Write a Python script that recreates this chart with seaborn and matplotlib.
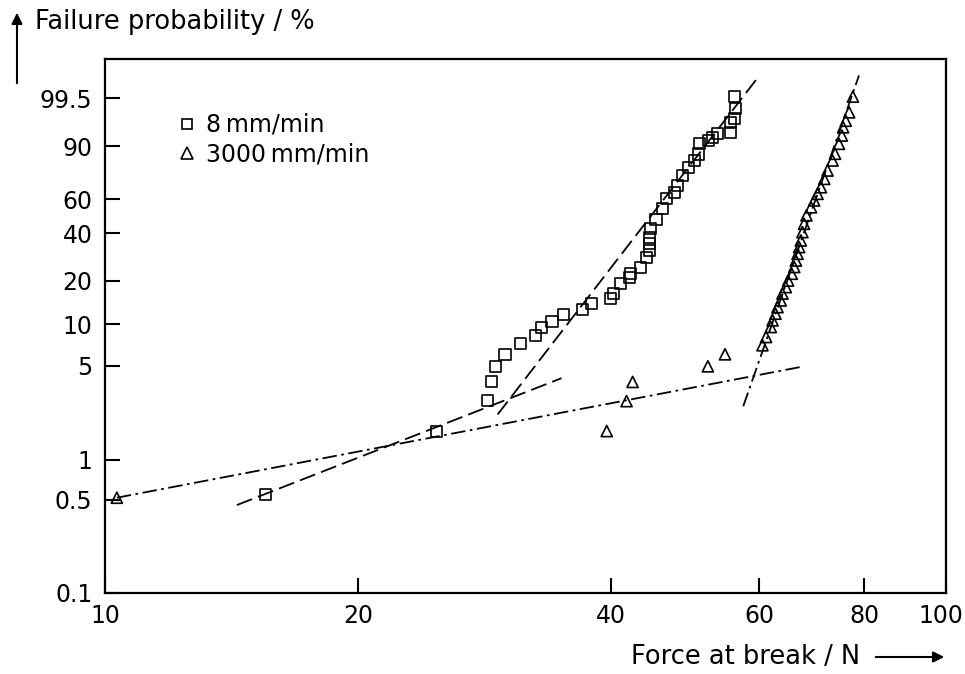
import numpy as np
import pandas as pd
import seaborn as sns
import matplotlib.pyplot as plt
import matplotlib.transforms as mtransforms
from matplotlib.lines import Line2D
from matplotlib.ticker import FixedLocator, FixedFormatter, NullLocator

# Data (force in N, failure probability in %)
force_8 = [15.5, 24.8, 28.5, 28.8, 29.1, 29.9, 31.2, 32.5, 33.0, 34.0, 35.1, 37.0, 37.9,
           39.9, 40.2, 41.0, 42.0, 42.2, 43.3, 44.0, 44.4, 44.4, 44.4, 44.5, 45.2, 46.0,
           46.5, 47.5, 47.9, 48.6, 49.4, 50.2, 50.8, 50.9, 52.2, 52.8, 53.5, 55.4, 55.4,
           56.0, 56.2, 56.0]
prob_8 = [0.55, 1.64, 2.78, 3.84, 4.95, 6.06, 7.28, 8.32, 9.5, 10.5, 11.75, 12.7, 14.0,
          15.2, 16.5, 19.1, 21.0, 22.3, 24.4, 28.6, 31.5, 34.6, 37.9, 42.3, 47.4, 54.1,
          60.3, 64.5, 68.8, 74.9, 79.7, 83.4, 86.6, 90.9, 92.1, 93.2, 94.4, 94.6, 96.9,
          97.5, 98.8, 99.56]

force_3000 = [10.33, 39.5, 41.7, 42.4, 52.1, 54.6,
              60.5, 61.1, 61.9, 62.2, 62.7, 63.05, 63.6, 63.9, 64.5, 64.9, 65.55, 66.0,
              66.3, 66.6, 66.9, 67.2, 67.5, 67.8, 68.25, 69.1, 69.7, 70.35, 71.0, 71.65,
              72.3, 73.3, 73.8, 74.6, 75.2, 75.45, 76.0, 76.7, 77.5]
prob_3000 = [0.52, 1.64, 2.74, 3.80, 4.95, 6.06,
             7.05, 8.09, 9.54, 10.65, 11.87, 13.2, 14.7, 16.4, 18.15, 20.1, 22.3, 24.7,
             27.2, 30.0, 33.0, 36.2, 40.5, 45.1, 50.0, 55.0, 59.3, 63.5, 67.7, 72.9,
             77.9, 83.4, 86.7, 90.9, 93.7, 95.9, 97.2, 98.4, 99.56]

# Fitted straight lines (end points: force, probability)
fit_8_low = ([14.35, 34.9], [0.458, 4.05])
fit_8_high = ([29.3, 60.0], [2.18, 99.96])
fit_3000_low = ([10.33, 67.8], [0.52, 4.95])
fit_3000_high = ([57.4, 78.8], [2.51, 99.96])

x_ticks = [10, 20, 40, 60, 80, 100]
y_ticks = [0.1, 0.5, 1, 5, 10, 20, 40, 60, 90, 99.5]
y_labels = ['0.1', '0.5', '1', '5', '10', '20', '40', '60', '90', '99.5']

labels = ['8\u2009mm/min', '3000\u2009mm/min']
df = pd.DataFrame({
    'force': force_8 + force_3000,
    'prob': prob_8 + prob_3000,
    'rate': [labels[0]] * len(force_8) + [labels[1]] * len(force_3000),
})


# Weibull probability scale
def weib(p):
    p = np.asarray(p, dtype=float)
    with np.errstate(all='ignore'):
        return np.log(-np.log(1 - p / 100.0))


def weib_inv(w):
    w = np.asarray(w, dtype=float)
    with np.errstate(all='ignore'):
        return 100.0 * (1 - np.exp(-np.exp(w)))


sns.set_style("ticks")
plt.rcParams['font.family'] = ['DejaVu Sans']
plt.rcParams['text.color'] = 'black'
fig = plt.figure(figsize=(9.65, 6.74), dpi=100)
ax = fig.add_axes([105 / 965, 1 - 593 / 674, 841 / 965, 534 / 674])

ax.set_xscale('log')
ax.set_yscale('function', functions=(weib, weib_inv))

sns.scatterplot(data=df, x='force', y='prob', style='rate',
                markers={labels[0]: 's', labels[1]: '^'},
                s=64, facecolor='none', edgecolor='black', linewidth=1.2,
                legend=False, ax=ax, zorder=3)

dash = (0, (9, 3.5))
dashdot = (0, (8, 2.5, 1.5, 2.5))
ax.plot(*fit_8_low, color='black', lw=1.3, linestyle=dash)
ax.plot(*fit_8_high, color='black', lw=1.3, linestyle=dash)
ax.plot(*fit_3000_low, color='black', lw=1.3, linestyle=dashdot)
ax.plot(*fit_3000_high, color='black', lw=1.3, linestyle=dashdot)

ax.set_xlim(10, 100)
ax.set_ylim(0.1, 99.997)
ax.xaxis.set_major_locator(FixedLocator(x_ticks))
ax.xaxis.set_major_formatter(FixedFormatter([str(t) for t in x_ticks]))
ax.xaxis.set_minor_locator(NullLocator())
ax.yaxis.set_major_locator(FixedLocator(y_ticks))
ax.yaxis.set_major_formatter(FixedFormatter(y_labels))
ax.yaxis.set_minor_locator(NullLocator())
ax.tick_params(axis='both', direction='in', length=11, width=1.5, labelsize=17,
               colors='black')
ax.tick_params(axis='x', pad=8)
ax.tick_params(axis='y', pad=9)
ax.set_xlabel('')
ax.set_ylabel('')
for sp in ax.spines.values():
    sp.set_linewidth(1.6)
    sp.set_color('black')

# nudge the "100" label a little to the left so it stays inside the figure
last = ax.get_xticklabels()[-1]
last.set_transform(last.get_transform() +
                   mtransforms.ScaledTranslation(-5 / 100, 0, fig.dpi_scale_trans))

# Legend
handles = [Line2D([], [], marker='s', linestyle='none', markersize=7,
                  markerfacecolor='none', markeredgecolor='black', markeredgewidth=1.2),
           Line2D([], [], marker='^', linestyle='none', markersize=8,
                  markerfacecolor='none', markeredgecolor='black', markeredgewidth=1.2)]
leg = ax.legend(handles, labels, loc='upper left', bbox_to_anchor=(0.075, 0.917),
                frameon=False, fontsize=17, handlelength=0.8, handletextpad=0.4,
                labelspacing=0.25, borderaxespad=0)

# Axis titles with arrows
fig.text(35 / 965, 1 - 22 / 674, 'Failure probability / %', fontsize=18.5,
         ha='left', va='center')
ax.annotate('', xy=(17 / 965, 1 - 10 / 674), xytext=(17 / 965, 1 - 86 / 674),
            xycoords='figure fraction', textcoords='figure fraction',
            arrowprops=dict(arrowstyle='-|>', color='black', lw=1.5, mutation_scale=16))
fig.text(860 / 965, 1 - 657 / 674, 'Force at break / N', fontsize=18.5,
         ha='right', va='center')
ax.annotate('', xy=(947 / 965, 1 - 657 / 674), xytext=(873 / 965, 1 - 657 / 674),
            xycoords='figure fraction', textcoords='figure fraction',
            arrowprops=dict(arrowstyle='-|>', color='black', lw=1.5, mutation_scale=16))

fig.savefig('out.png', dpi=100)
